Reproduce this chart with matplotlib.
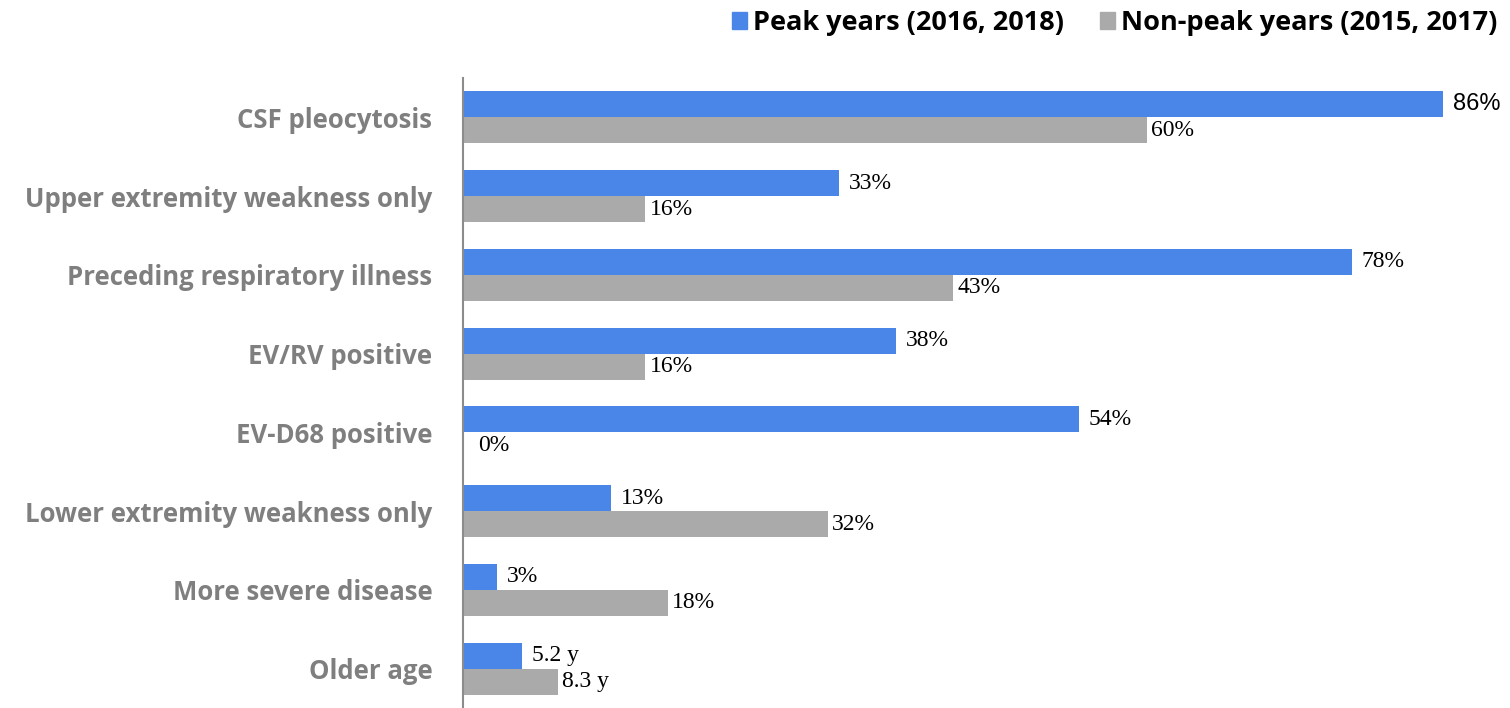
import numpy as np
import matplotlib.pyplot as plt
from matplotlib.patches import Patch

categories = ['CSF pleocytosis', 'Upper extremity weakness only',
              'Preceding respiratory illness', 'EV/RV positive',
              'EV-D68 positive', 'Lower extremity weakness only',
              'More severe disease', 'Older age']
peak = [86, 33, 78, 38, 54, 13, 3, 5.2]
nonpeak = [60, 16, 43, 16, 0, 32, 18, 8.3]
peak_labels = ['86%', '33%', '78%', '38%', '54%', '13%', '3%', '5.2 y']
nonpeak_labels = ['60%', '16%', '43%', '16%', '0%', '32%', '18%', '8.3 y']

blue = '#4a86e8'
grey = '#aaaaaa'

fig = plt.figure(figsize=(15.1, 7.08), dpi=100)
ax = fig.add_axes([463/1510, 0, 1026/1510, 630/708])

y = np.arange(len(categories))
h = 0.33
ax.barh(y - h/2, peak, height=h, color=blue)
ax.barh(y + h/2, nonpeak, height=h, color=grey)

for i in range(len(categories)):
    fam = 'Liberation Sans' if i == 0 else 'Liberation Serif'
    ax.annotate(peak_labels[i], (peak[i], y[i] - h/2), xytext=(7, 0),
                textcoords='offset points', va='center', ha='left',
                fontsize=17, family=fam, color='black')
    ax.annotate(nonpeak_labels[i], (nonpeak[i], y[i] + h/2), xytext=(3, 0) if nonpeak[i] > 0 else (11, 0),
                textcoords='offset points', va='center', ha='left',
                fontsize=17, family='Liberation Serif', color='black')

ax.set_xlim(0, 90)
ax.set_ylim(7.5, -0.5)
ax.set_yticks(y)
ax.set_yticklabels(categories, fontsize=18.5, fontweight='bold', family='Open Sans', color='#7f7f7f')
ax.tick_params(axis='y', length=0, pad=22)
ax.set_xticks([])
for s in ['top', 'right', 'bottom']:
    ax.spines[s].set_visible(False)
ax.spines['left'].set_color('#8c8c8c')
ax.spines['left'].set_linewidth(1.5)

handles = [Patch(color=blue, label='Peak years (2016, 2018)'),
           Patch(color=grey, label='Non-peak years (2015, 2017)')]
fig.legend(handles=handles, loc='upper right', bbox_to_anchor=(1.008, 1.02), ncol=2,
           frameon=False, handlelength=0.55, handleheight=0.55, handletextpad=0.25,
           columnspacing=1.3, prop={'family': 'Open Sans', 'weight': 'bold', 'size': 19.5})

fig.savefig('out.png', dpi=100)
